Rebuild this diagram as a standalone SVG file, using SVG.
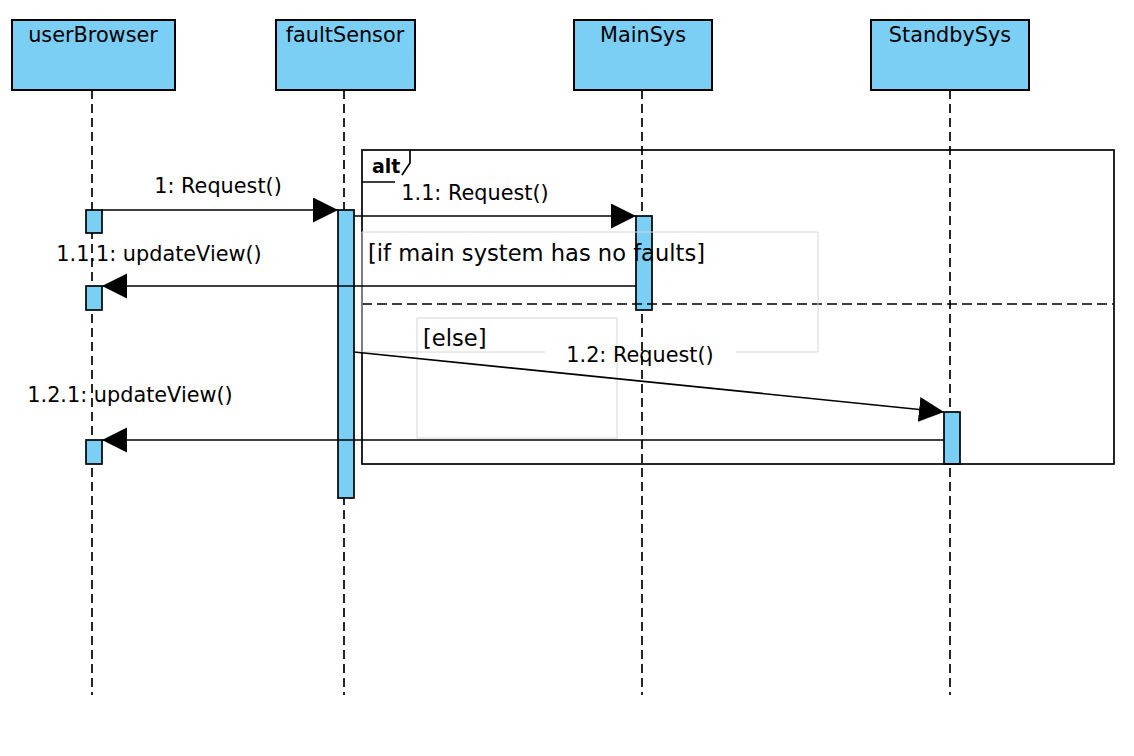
<svg xmlns="http://www.w3.org/2000/svg" width="1134" height="756" viewBox="0 0 1134 756">
<style>
.head{fill:#7bcef4;stroke:#000;stroke-width:2}
.act{fill:#7bcef4;stroke:#000;stroke-width:1.7}
.life{stroke:#000;stroke-width:1.7;stroke-dasharray:9 5;fill:none}
.msg{stroke:#000;stroke-width:1.7;fill:none;marker-end:url(#arr)}
.t{font-family:"DejaVu Sans",sans-serif;font-size:20.8px;fill:#000}
.g{font-family:"DejaVu Sans",sans-serif;font-size:22.6px;fill:#000}
.guard{fill:none;stroke:#d6d6d6;stroke-width:1}
</style>
<defs>
<marker id="arr" markerUnits="userSpaceOnUse" markerWidth="26" markerHeight="26" refX="25" refY="12.5" orient="auto" viewBox="0 0 26 26">
<path d="M0,0 L25,12.5 L0,25 Z" fill="#000"/>
</marker>
</defs>
<rect width="1134" height="756" fill="#fff"/>
<g id="lifelines">
<line class="life" x1="92" y1="90" x2="92" y2="695"/>
<line class="life" x1="344" y1="90" x2="344" y2="695"/>
<line class="life" x1="642" y1="90" x2="642" y2="695"/>
<line class="life" x1="950" y1="90" x2="950" y2="695"/>
</g>
<g id="userBrowser"><rect class="head" x="12" y="20" width="163" height="70"/><text class="t" x="93" y="42" text-anchor="middle">userBrowser</text></g>
<g id="faultSensor"><rect class="head" x="276" y="20" width="139" height="70"/><text class="t" x="345" y="42" text-anchor="middle">faultSensor</text></g>
<g id="MainSys"><rect class="head" x="574" y="20" width="138" height="70"/><text class="t" x="643" y="42" text-anchor="middle">MainSys</text></g>
<g id="StandbySys"><rect class="head" x="871" y="20" width="158" height="70"/><text class="t" x="950" y="42" text-anchor="middle">StandbySys</text></g>
<g id="activations">
<rect class="act" x="86" y="210" width="16" height="23"/>
<rect class="act" x="86" y="286" width="16" height="24"/>
<rect class="act" x="86" y="440" width="16" height="24"/>
<rect class="act" x="338" y="210" width="16" height="288"/>
<rect class="act" x="636" y="216" width="16" height="94"/>
<rect class="act" x="944" y="412" width="16" height="52"/>
</g>
<g id="alt">
<rect x="362" y="150" width="752" height="314" fill="none" stroke="#000" stroke-width="1.7"/>
<path d="M362,182 L395,182 M410,150 L410,163 L402,175" fill="none" stroke="#000" stroke-width="1.7"/>
<text x="372" y="173" style="font-family:'DejaVu Sans',sans-serif;font-size:19px;font-weight:bold">alt</text>
<line x1="362" y1="304" x2="1114" y2="304" stroke="#000" stroke-width="1.7" style="stroke-dasharray:10 5"/>
<path class="guard" d="M545,352 L362,352 L362,232 L818,232 L818,352 L736,352"/>
<text class="g" x="368" y="261">[if main system has no faults]</text>
<rect class="guard" x="417" y="318" width="200" height="120"/>
<text class="g" x="423" y="346">[else]</text>
</g>
<g id="connectors">
<line class="msg" x1="102" y1="210" x2="338" y2="210"/>
<text class="t" x="218" y="193" text-anchor="middle">1: Request()</text>
<line class="msg" x1="354" y1="216" x2="636" y2="216"/>
<text class="t" x="475" y="200" text-anchor="middle">1.1: Request()</text>
<line class="msg" x1="636" y1="286" x2="102" y2="286"/>
<text class="t" x="159" y="261" text-anchor="middle">1.1.1: updateView()</text>
<line class="msg" x1="354" y1="352" x2="944" y2="412"/>
<text class="t" x="640" y="362" text-anchor="middle">1.2: Request()</text>
<line class="msg" x1="944" y1="440" x2="102" y2="440"/>
<text class="t" x="130" y="402" text-anchor="middle">1.2.1: updateView()</text>
</g>
</svg>
